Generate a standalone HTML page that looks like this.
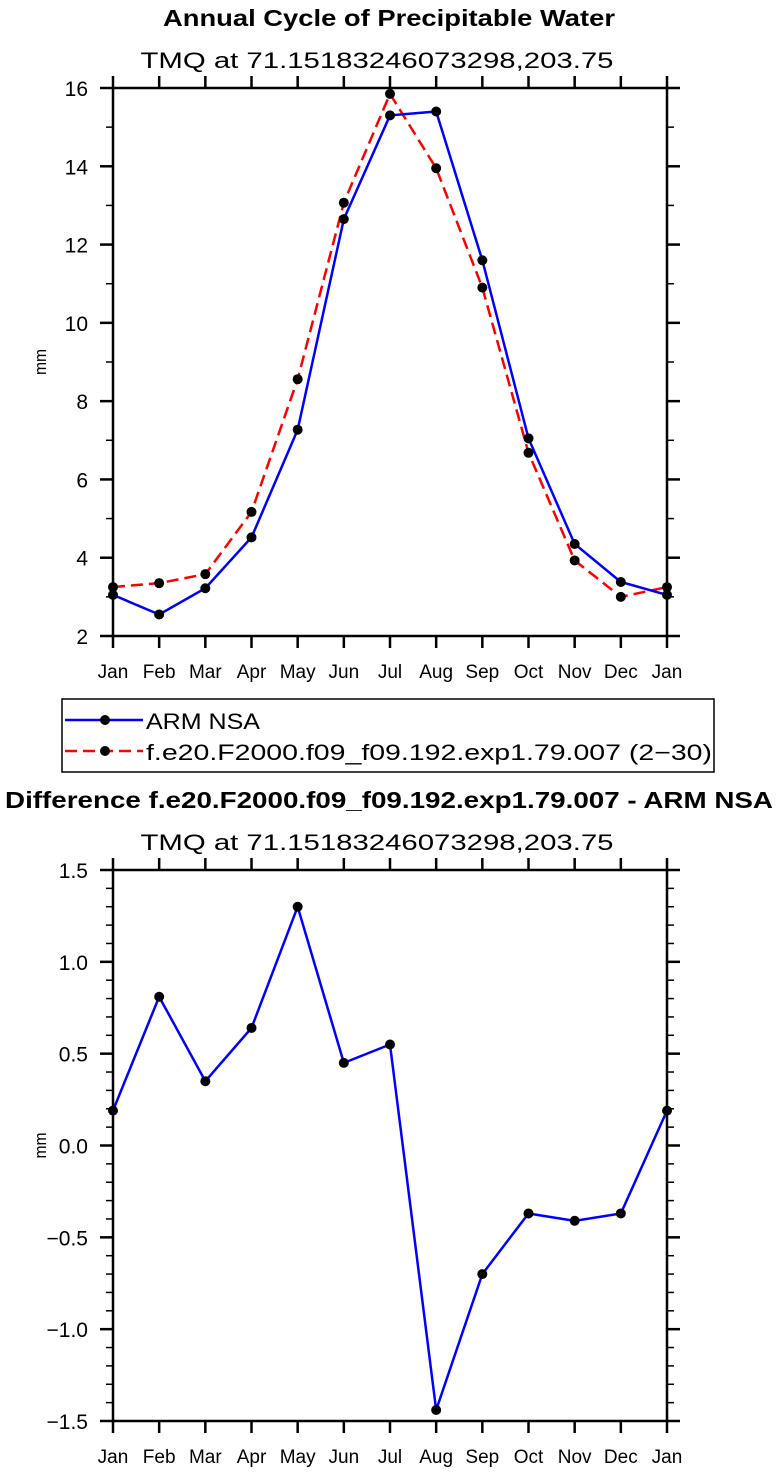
<!DOCTYPE html>
<html><head><meta charset="utf-8"><style>
body{margin:0;background:#fff;}
svg{display:block;font-family:"Liberation Sans",sans-serif;}
</style></head><body>
<svg id="c" width="778" height="1474" viewBox="0 0 778 1474"></svg>
<script>
const months = ["Jan","Feb","Mar","Apr","May","Jun","Jul","Aug","Sep","Oct","Nov","Dec","Jan"];
const armValues = [3.05,2.55,3.22,4.52,7.27,12.65,15.3,15.4,11.6,7.05,4.35,3.38,3.05];
const modelValues = [3.25,3.35,3.58,5.17,8.56,13.07,15.85,13.95,10.9,6.68,3.93,3.0,3.25];
const diffValues = [0.19,0.81,0.35,0.64,1.30,0.45,0.55,-1.44,-0.70,-0.37,-0.41,-0.37,0.19];
const topTicks = ["2","4","6","8","10","12","14","16"];
const botTicks = ["-1.5","-1.0","-0.5","0.0","0.5","1.0","1.5"];

const svg=document.getElementById('c');
const NS="http://www.w3.org/2000/svg";
function mk(tag,attrs,parent,name){const e=document.createElementNS(NS,tag);for(const k in attrs)e.setAttribute(k,attrs[k]);


(parent||svg).appendChild(e);return e;}
function txt(x,y,s,size,opts,name,len){const o=Object.assign({x:x,y:y,'font-size':size,'text-anchor':'middle'},opts||{});
if(len){o.textLength=len;o.lengthAdjust='spacingAndGlyphs';}
const t=mk('text',o,svg,name);t.textContent=s;return t;}

function panel(y0,y1,ymin,ymax,ticks,minorStep,name){
  const x0=113,x1=667;
  const g=mk('g',{},svg,name);
  const xs=i=>x0+(x1-x0)*i/12;
  const ys=v=>y1-(v-ymin)/(ymax-ymin)*(y1-y0);
  mk('rect',{x:x0,y:y0,width:x1-x0,height:y1-y0,fill:'none',stroke:'#000','stroke-width':2.5},g,'plot-frame');
  for(let i=0;i<=12;i++){
    mk('line',{x1:xs(i),x2:xs(i),y1:y1,y2:y1+12,stroke:'#000','stroke-width':2.5},g,'x-tick');
    mk('line',{x1:xs(i),x2:xs(i),y1:y0,y2:y0-12,stroke:'#000','stroke-width':2.5},g,'x-tick-top');
    txt(xs(i),y1+42,months[i],19,{},'x-tick-label');
  }
  ticks.forEach(s=>{const v=parseFloat(s),y=ys(v);
    mk('line',{x1:x0-13,x2:x0,y1:y,y2:y,stroke:'#000','stroke-width':2.5},g,'y-tick');
    mk('line',{x1:x1,x2:x1+13,y1:y,y2:y,stroke:'#000','stroke-width':2.5},g,'y-tick-right');
    txt(x0-25,y+8,s.replace('-','\u2212'),21,{'text-anchor':'end'},'y-tick-label');
  });
  for(let v=ymin;v<=ymax+1e-9;v+=minorStep){const y=ys(v);
    mk('line',{x1:x0-7,x2:x0,y1:y,y2:y,stroke:'#000','stroke-width':1.5},g,'y-minor-tick');
    mk('line',{x1:x1,x2:x1+7,y1:y,y2:y,stroke:'#000','stroke-width':1.5},g,'y-minor-tick-right');
  }
  txt(0,0,'mm',17,{transform:`translate(46,${(y0+y1)/2}) rotate(-90)`},'y-axis-title',26);
  return {xs,ys,g};
}
function series(p,vals,color,dash,name){
  const pts=vals.map((v,i)=>p.xs(i)+','+p.ys(v)).join(' ');
  const a={points:pts,fill:'none',stroke:color,'stroke-width':2.5};
  if(dash)a['stroke-dasharray']=dash;
  mk('polyline',a,p.g,name+'-line');
  vals.forEach((v,i)=>mk('circle',{cx:p.xs(i),cy:p.ys(v),r:5,fill:'#000'},p.g,name+'-point'));
}

txt(389,26,'Annual Cycle of Precipitable Water',23,{'font-weight':'bold'},'top-chart-title',452);
txt(377,68,'TMQ  at  71.15183246073298,203.75',22,{},'top-chart-subtitle',473);
const p1=panel(88,636,2,16,topTicks,1,'top-plot');
series(p1,modelValues,'#f00','12,6','model-series');
series(p1,armValues,'#00f',null,'arm-series');

const lg=mk('g',{},svg,'legend');
mk('rect',{x:62,y:699,width:652,height:73,fill:'none',stroke:'#000','stroke-width':1.5},lg,'legend-box');
mk('line',{x1:65,x2:143,y1:720,y2:720,stroke:'#00f','stroke-width':2.5},lg,'legend-arm-line');
mk('circle',{cx:105,cy:720,r:5,fill:'#000'},lg,'legend-arm-marker');
txt(146,729,'ARM  NSA',22,{'text-anchor':'start'},'legend-arm-label',114);
mk('line',{x1:65,x2:143,y1:751,y2:751,stroke:'#f00','stroke-width':2.5,'stroke-dasharray':'12,6'},lg,'legend-model-line');
mk('circle',{cx:105,cy:751,r:5,fill:'#000'},lg,'legend-model-marker');
txt(146,760,'f.e20.F2000.f09_f09.192.exp1.79.007 (2\u221230)',22,{'text-anchor':'start'},'legend-model-label',566);

txt(389,808,'Difference f.e20.F2000.f09_f09.192.exp1.79.007 - ARM NSA',23,{'font-weight':'bold'},'bottom-chart-title',768);
txt(377,850,'TMQ  at  71.15183246073298,203.75',22,{},'bottom-chart-subtitle',473);
const p2=panel(870,1421,-1.5,1.5,botTicks,0.1,'bottom-plot');
series(p2,diffValues,'#00f',null,'diff-series');
</script>
</body></html>
